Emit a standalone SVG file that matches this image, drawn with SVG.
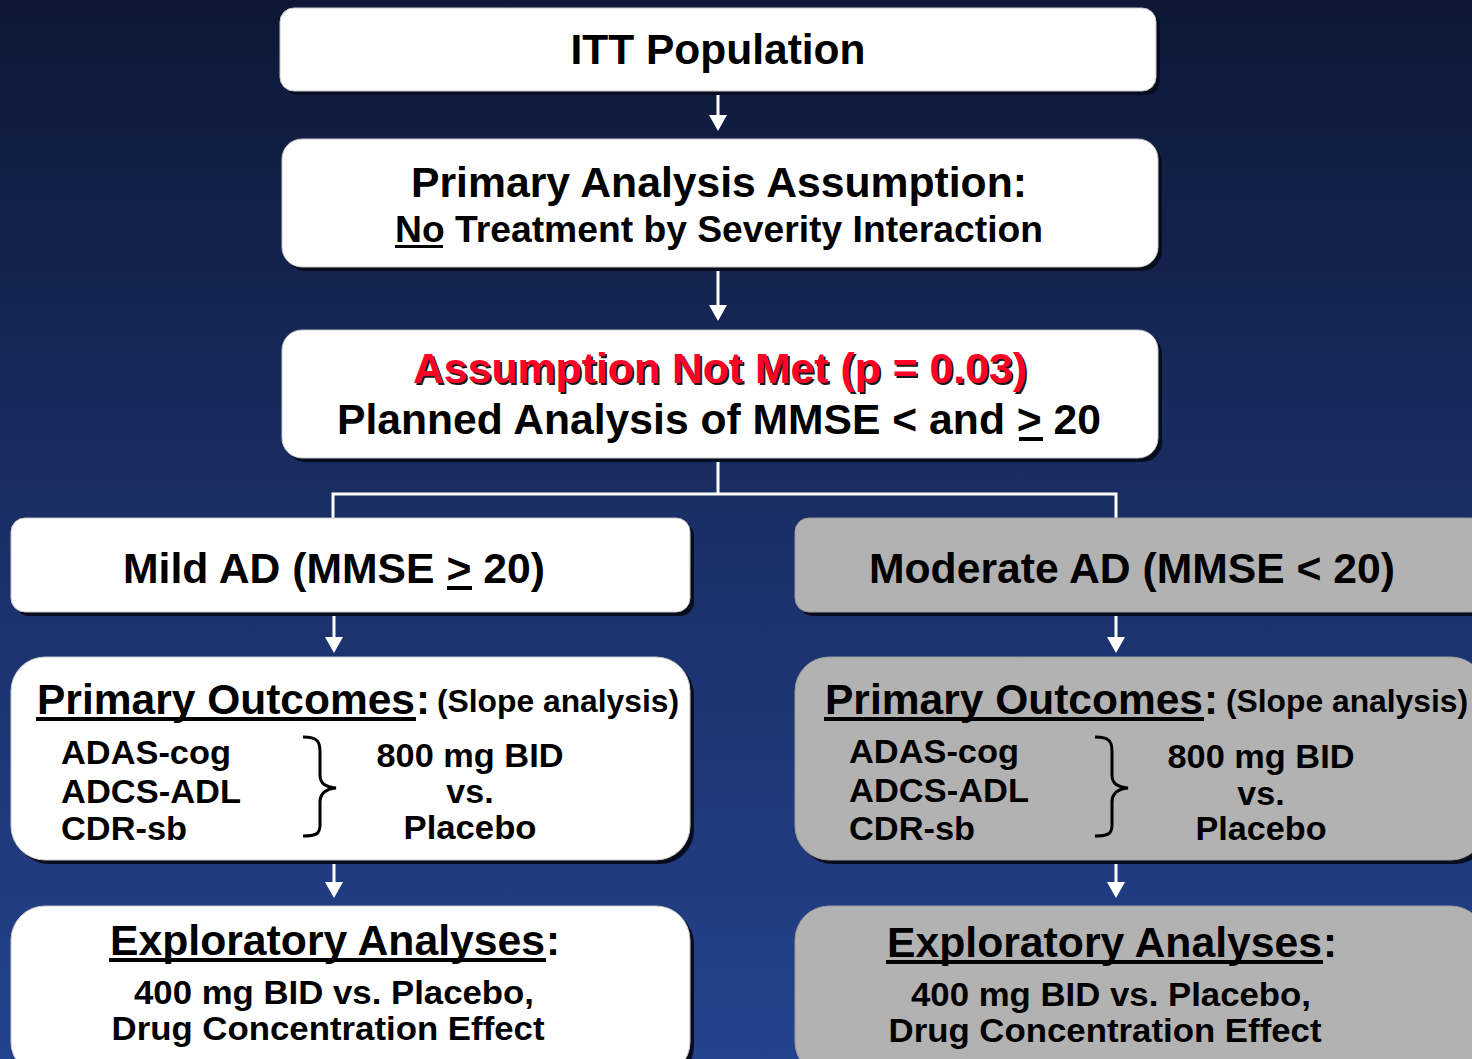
<svg xmlns="http://www.w3.org/2000/svg" width="1472" height="1059" viewBox="0 0 1472 1059">
  <defs>
    <linearGradient id="bg" x1="0" y1="0" x2="0" y2="1">
      <stop offset="0" stop-color="#0d1836"/>
      <stop offset="0.5" stop-color="#1a2f66"/>
      <stop offset="1" stop-color="#23438d"/>
    </linearGradient>
    <marker id="arr" viewBox="0 0 10 10" refX="10" refY="5" markerWidth="5" markerHeight="5" orient="auto" markerUnits="userSpaceOnUse">
      <path d="M0,0 L10,5 L0,10 Z" fill="#ffffff"/>
    </marker>
  </defs>
  <style>
    text { font-family: "Liberation Sans", Arial, sans-serif; font-weight: bold; fill: #000; }
    .shadow { fill: #070d1e; }
    .white { fill: #ffffff; stroke: #c8c8c8; stroke-width: 1; }
    .gray { fill: #b2b2b2; stroke: #9a9a9a; stroke-width: 1; }
    .conn { stroke: #ffffff; stroke-width: 3; fill: none; }
    .ul { fill: #000; }
    .brace { fill: none; stroke: #000; stroke-width: 3; }
  </style>

  <rect width="1472" height="1059" fill="url(#bg)"/>

  <!-- connectors -->
  <g id="connectors">
    <line class="conn" x1="718" y1="91" x2="718" y2="118"/>
    <path d="M709,115 L727,115 L718,131 Z" fill="#fff"/>
    <line class="conn" x1="718" y1="266" x2="718" y2="308"/>
    <path d="M709,305 L727,305 L718,321 Z" fill="#fff"/>
    <path class="conn" d="M718,458 V494 M333,519 V494 H1116 V519"/>
    <line class="conn" x1="334" y1="612" x2="334" y2="640"/>
    <path d="M325,637 L343,637 L334,653 Z" fill="#fff"/>
    <line class="conn" x1="1116" y1="612" x2="1116" y2="640"/>
    <path d="M1107,637 L1125,637 L1116,653 Z" fill="#fff"/>
    <line class="conn" x1="334" y1="860" x2="334" y2="885"/>
    <path d="M325,882 L343,882 L334,898 Z" fill="#fff"/>
    <line class="conn" x1="1116" y1="860" x2="1116" y2="885"/>
    <path d="M1107,882 L1125,882 L1116,898 Z" fill="#fff"/>
  </g>

  <!-- ITT population -->
  <g id="itt">
    <rect class="shadow" x="284" y="12" width="876" height="83" rx="14"/>
    <rect class="white" x="280" y="8" width="876" height="83" rx="14"/>
    <text x="718" y="64" text-anchor="middle" font-size="43" textLength="295" lengthAdjust="spacingAndGlyphs">ITT Population</text>
  </g>

  <!-- primary analysis assumption -->
  <g id="assumption">
    <rect class="shadow" x="286" y="143" width="876" height="128" rx="20"/>
    <rect class="white" x="282" y="139" width="876" height="128" rx="20"/>
    <text x="719" y="197" text-anchor="middle" font-size="42" textLength="616" lengthAdjust="spacingAndGlyphs">Primary Analysis Assumption:</text>
    <text x="395" y="242" font-size="36" textLength="648" lengthAdjust="spacingAndGlyphs">No Treatment by Severity Interaction</text>
    <rect class="ul" x="395" y="245" width="48" height="3"/>
  </g>

  <!-- assumption not met -->
  <g id="not-met">
    <rect class="shadow" x="286" y="334" width="876" height="128" rx="20"/>
    <rect class="white" x="282" y="330" width="876" height="128" rx="20"/>
    <text x="722" y="385" text-anchor="middle" font-size="42" textLength="614" lengthAdjust="spacingAndGlyphs" style="fill:#1a1a1a">Assumption Not Met (p = 0.03)</text>
    <text x="720" y="383" text-anchor="middle" font-size="42" textLength="614" lengthAdjust="spacingAndGlyphs" style="fill:#ff0026">Assumption Not Met (p = 0.03)</text>
    <text x="719" y="434" text-anchor="middle" font-size="42" textLength="764" lengthAdjust="spacingAndGlyphs">Planned Analysis of MMSE &lt; and &gt; 20</text>
    <rect class="ul" x="1019" y="437" width="24" height="4"/>
  </g>

  <!-- mild AD -->
  <g id="mild">
    <rect class="shadow" x="15" y="522" width="679" height="94" rx="14"/>
    <rect class="white" x="11" y="518" width="679" height="94" rx="14"/>
    <text x="334" y="583" text-anchor="middle" font-size="42" textLength="422" lengthAdjust="spacingAndGlyphs">Mild AD (MMSE &gt; 20)</text>
    <rect class="ul" x="447" y="586" width="25" height="4"/>
  </g>

  <!-- moderate AD -->
  <g id="moderate">
    <rect class="shadow" x="799" y="522" width="690" height="94" rx="14"/>
    <rect class="gray" x="795" y="518" width="690" height="94" rx="14"/>
    <text x="1132" y="583" text-anchor="middle" font-size="42" textLength="526" lengthAdjust="spacingAndGlyphs">Moderate AD (MMSE &lt; 20)</text>
  </g>

  <!-- primary outcomes, mild -->
  <g id="outcomes-mild">
    <rect class="shadow" x="15" y="661" width="679" height="203" rx="34"/>
    <rect class="white" x="11" y="657" width="679" height="203" rx="34"/>
    <text x="37" y="714" font-size="42" textLength="378" lengthAdjust="spacingAndGlyphs">Primary Outcomes</text>
    <rect class="ul" x="36" y="717" width="380" height="4"/>
    <text x="416" y="714" font-size="42">:</text>
    <text x="437" y="712" font-size="31" textLength="242" lengthAdjust="spacingAndGlyphs">(Slope analysis)</text>
    <text x="61" y="764" font-size="34" textLength="170" lengthAdjust="spacingAndGlyphs">ADAS-cog</text>
    <text x="61" y="803" font-size="34" textLength="180" lengthAdjust="spacingAndGlyphs">ADCS-ADL</text>
    <text x="61" y="840" font-size="34" textLength="126" lengthAdjust="spacingAndGlyphs">CDR-sb</text>
    <path class="brace" d="M303,737 C318,737 320,742 320,752 L320,775 C320,784 326,787 336,788 C326,789 320,793 320,802 L320,825 C320,834 316,836 303,836"/>
    <text x="470" y="767" text-anchor="middle" font-size="34" textLength="187" lengthAdjust="spacingAndGlyphs">800 mg BID</text>
    <text x="470" y="803" text-anchor="middle" font-size="34">vs.</text>
    <text x="470" y="839" text-anchor="middle" font-size="34" textLength="133" lengthAdjust="spacingAndGlyphs">Placebo</text>
  </g>

  <!-- primary outcomes, moderate -->
  <g id="outcomes-moderate">
    <rect class="shadow" x="799" y="661" width="690" height="203" rx="34"/>
    <rect class="gray" x="795" y="657" width="690" height="203" rx="34"/>
    <text x="825" y="714" font-size="42" textLength="378" lengthAdjust="spacingAndGlyphs">Primary Outcomes</text>
    <rect class="ul" x="824" y="717" width="380" height="4"/>
    <text x="1204" y="714" font-size="42">:</text>
    <text x="1226" y="712" font-size="31" textLength="242" lengthAdjust="spacingAndGlyphs">(Slope analysis)</text>
    <text x="849" y="763" font-size="34" textLength="170" lengthAdjust="spacingAndGlyphs">ADAS-cog</text>
    <text x="849" y="802" font-size="34" textLength="180" lengthAdjust="spacingAndGlyphs">ADCS-ADL</text>
    <text x="849" y="840" font-size="34" textLength="126" lengthAdjust="spacingAndGlyphs">CDR-sb</text>
    <path class="brace" d="M1095,737 C1110,737 1112,742 1112,752 L1112,775 C1112,784 1118,787 1128,788 C1118,789 1112,793 1112,802 L1112,825 C1112,834 1108,836 1095,836"/>
    <text x="1261" y="768" text-anchor="middle" font-size="34" textLength="187" lengthAdjust="spacingAndGlyphs">800 mg BID</text>
    <text x="1261" y="805" text-anchor="middle" font-size="34">vs.</text>
    <text x="1261" y="840" text-anchor="middle" font-size="34" textLength="131" lengthAdjust="spacingAndGlyphs">Placebo</text>
  </g>

  <!-- exploratory, mild -->
  <g id="exploratory-mild">
    <rect class="shadow" x="15" y="910" width="679" height="170" rx="34"/>
    <rect class="white" x="11" y="906" width="679" height="170" rx="34"/>
    <text x="110" y="955" font-size="42" textLength="435" lengthAdjust="spacingAndGlyphs">Exploratory Analyses</text>
    <rect class="ul" x="109" y="958" width="437" height="4"/>
    <text x="546" y="955" font-size="42">:</text>
    <text x="334" y="1004" text-anchor="middle" font-size="34" textLength="400" lengthAdjust="spacingAndGlyphs">400 mg BID vs. Placebo,</text>
    <text x="328" y="1040" text-anchor="middle" font-size="34" textLength="433" lengthAdjust="spacingAndGlyphs">Drug Concentration Effect</text>
  </g>

  <!-- exploratory, moderate -->
  <g id="exploratory-moderate">
    <rect class="shadow" x="799" y="910" width="690" height="170" rx="34"/>
    <rect class="gray" x="795" y="906" width="690" height="170" rx="34"/>
    <text x="887" y="957" font-size="42" textLength="435" lengthAdjust="spacingAndGlyphs">Exploratory Analyses</text>
    <rect class="ul" x="886" y="960" width="437" height="4"/>
    <text x="1323" y="957" font-size="42">:</text>
    <text x="1111" y="1006" text-anchor="middle" font-size="34" textLength="400" lengthAdjust="spacingAndGlyphs">400 mg BID vs. Placebo,</text>
    <text x="1105" y="1042" text-anchor="middle" font-size="34" textLength="433" lengthAdjust="spacingAndGlyphs">Drug Concentration Effect</text>
  </g>
</svg>
